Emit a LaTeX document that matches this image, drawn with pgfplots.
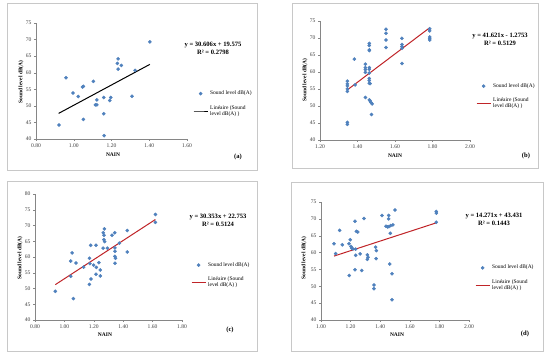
\documentclass[border=0pt]{standalone}
\usepackage{pgfplots}
\pgfplotsset{compat=1.18}
\usepackage{fontspec}
\setmainfont{Liberation Serif}
\definecolor{mblue}{RGB}{79,129,189}
\definecolor{lred}{RGB}{192,36,40}
\definecolor{axgray}{RGB}{134,134,134}
\definecolor{boxgray}{RGB}{200,200,200}
\pgfplotsset{
  panel/.style={
    scale only axis, anchor=north west,
    axis x line*=bottom, axis y line*=left,
    axis line style={axgray, line width=0.5bp},
    tick style={axgray, line width=0.4bp},
    tick align=outside, major tick length=2bp,
    ytick distance=5,
    xtick distance=0.2,
    xticklabel style={/pgf/number format/fixed, /pgf/number format/fixed zerofill, /pgf/number format/precision=2, yshift=1bp},
    /pgf/number format/assume math mode=true,
    ticklabel style={font=\fontsize{5.6}{6}\selectfont, text=black!75},
    yticklabel style={xshift=1bp},
    legend cell align=left,
    legend style={draw=none, fill=none, font=\fontsize{5.5}{6.2}\selectfont, cells={align=left}, row sep=5bp, anchor=north west},
    legend image code/.code={\draw[#1, mark repeat=2, mark phase=2] plot coordinates {(0bp,0bp) (7bp,0bp) (14bp,0bp)};},
  },
  pts/.style={only marks, mark=*, mark size=1.6bp, mark options={fill=mblue, draw=mblue}},
}
\begin{document}
\begin{tikzpicture}
\fill[white] (0,0) rectangle (550bp,358bp);
% boxes
\draw[boxgray, line width=0.6bp] (7bp,{358bp-3bp}) rectangle (257bp,{358bp-170bp});
\draw[boxgray, line width=0.6bp] (292bp,{358bp-3bp}) rectangle (538bp,{358bp-168bp});
\draw[boxgray, line width=0.6bp] (7bp,{358bp-181bp}) rectangle (257bp,{358bp-351bp});
\draw[boxgray, line width=0.6bp] (291bp,{358bp-182bp}) rectangle (543bp,{358bp-351bp});

% (a)
\begin{axis}[panel, at={(36bp,335bp)}, width=151bp, height=116bp,
  xmin=0.8, xmax=1.6, ymin=40, ymax=75,
  legend style={at={(rel axis cs:1.02,0.45)}}]
\addplot[pts] coordinates {
(0.922,44.2) (0.959,58.5) (0.996,53.9) (1.024,52.8) (1.046,55.7) (1.051,55.9)
(1.051,45.9) (1.104,57.4) (1.115,50.3) (1.122,50.3) (1.122,51.8) (1.159,52.5)
(1.159,47.6) (1.161,41.0) (1.191,51.6) (1.196,52.5) (1.235,64.2) (1.231,62.8)
(1.235,61.1) (1.252,62.2) (1.309,52.9) (1.325,60.7) (1.403,69.3)};
\addlegendentry{Sound level dB(A)}
\addplot[black, line width=1bp] coordinates {(0.92,47.73) (1.403,62.51)};
\addlegendentry{Linéaire (Sound\\level dB(A) )}
\end{axis}

% (b)
\begin{axis}[panel, at={(320bp,337bp)}, width=150bp, height=119bp,
  xmin=1.2, xmax=2.0, ymin=40, ymax=75,
  legend style={at={(rel axis cs:1.02,0.51)}}]
\addplot[pts] coordinates {
(1.346,57.3) (1.346,56.5) (1.346,55.9) (1.346,55.0) (1.346,54.3) (1.346,45.2) (1.346,44.6)
(1.383,63.8) (1.387,56.2)
(1.442,62.3) (1.442,61.3) (1.442,60.7) (1.442,59.9) (1.442,52.5)
(1.463,68.4) (1.463,67.8) (1.463,66.5) (1.463,66.3) (1.463,61.3) (1.463,60.8) (1.463,59.7)
(1.463,58.1) (1.463,57.5) (1.463,56.7) (1.467,56.6) (1.463,51.8) (1.467,51.5) (1.472,51.0)
(1.478,50.6) (1.475,47.5)
(1.552,72.6) (1.552,71.4) (1.552,69.4) (1.552,67.2)
(1.637,69.9) (1.637,68.1) (1.637,67.5) (1.637,67.0) (1.637,62.5)
(1.785,72.7) (1.785,72.1) (1.785,70.3) (1.785,69.8) (1.785,69.4)};
\addlegendentry{Sound level dB(A)}
\addplot[lred, line width=1bp] coordinates {(1.346,54.75) (1.785,73.02)};
\addlegendentry{Linéaire (Sound\\level dB(A) )}
\end{axis}

% (c)
\begin{axis}[panel, at={(35bp,164bp)}, width=147bp, height=126bp,
  xmin=0.8, xmax=1.8, ymin=40, ymax=80,
  legend style={at={(rel axis cs:1.04,0.49)}}]
\addplot[pts] coordinates {
(0.938,49.1) (1.061,46.8) (1.043,53.9) (1.043,58.7) (1.052,61.3) (1.079,58.1)
(1.131,56.8) (1.170,59.6) (1.170,51.3) (1.181,53.0) (1.179,63.7) (1.215,63.7)
(1.174,57.9) (1.199,57.4) (1.217,56.7) (1.235,58.2) (1.215,54.5) (1.244,55.9)
(1.244,54.0) (1.263,62.8) (1.265,67.7) (1.272,68.9) (1.269,66.9) (1.269,65.5)
(1.274,64.9) (1.292,62.8) (1.324,66.9) (1.342,67.7) (1.344,62.9) (1.344,61.8)
(1.344,60.2) (1.347,59.6) (1.344,58.0) (1.374,64.4) (1.428,68.4) (1.428,61.6)
(1.619,73.5) (1.619,71.0)};
\addlegendentry{Sound level dB(A)}
\addplot[lred, line width=1bp] coordinates {(0.938,51.22) (1.619,71.90)};
\addlegendentry{Linéaire (Sound\\level dB(A) )}
\end{axis}

% (d)
\begin{axis}[panel, at={(321bp,156bp)}, width=148bp, height=118bp,
  xmin=1.0, xmax=2.0, ymin=40, ymax=75,
  legend style={at={(rel axis cs:1.02,0.50)}}]
\addplot[pts] coordinates {
(1.088,62.6) (1.099,59.7) (1.126,66.6) (1.144,62.3) (1.191,53.2) (1.189,62.6)
(1.198,63.8) (1.203,61.8) (1.207,61.3) (1.216,61.1) (1.234,61.0) (1.230,69.3)
(1.239,66.3) (1.248,66.1) (1.234,59.2) (1.230,54.9) (1.264,59.6) (1.275,54.7)
(1.291,70.1) (1.313,59.3) (1.318,58.6) (1.313,58.0) (1.369,61.6) (1.374,60.6)
(1.372,58.2) (1.358,50.4) (1.358,49.3) (1.412,71.0) (1.457,71.0) (1.457,70.0)
(1.439,67.8) (1.450,67.6) (1.459,67.7) (1.471,68.0) (1.486,68.2) (1.468,65.7)
(1.500,72.6) (1.464,56.6) (1.480,53.7) (1.480,46.0) (1.779,72.2) (1.779,71.7)
(1.779,69.0)};
\addlegendentry{Sound level dB(A)}
\addplot[lred, line width=1bp] coordinates {(1.088,58.96) (1.779,68.82)};
\addlegendentry{Linéaire (Sound\\level dB(A) )}
\end{axis}

% texts
\begin{scope}[every node/.style={font=\fontsize{6.6}{8}\selectfont\bfseries, align=center, inner sep=0pt}]
\node at (213bp,{358bp-48bp}) {y = 30.606x + 19.575\\R² = 0.2798};
\node at (500bp,{358bp-39.5bp}) {y = 41.621x - 1.2753\\R² = 0.5129};
\node at (218bp,{358bp-220.5bp}) {y = 30.353x + 22.753\\R² = 0.5124};
\node at (494bp,{358bp-219.5bp}) {y = 14.271x + 43.431\\R² = 0.1443};
\end{scope}
\begin{scope}[every node/.style={font=\fontsize{6.6}{8}\selectfont\bfseries, inner sep=0pt}]
\node at (238bp,{358bp-157bp}) {(a)};
\node at (526bp,{358bp-156bp}) {(b)};
\node at (230bp,{358bp-330bp}) {(c)};
\node at (525bp,{358bp-334bp}) {(d)};
\end{scope}
\begin{scope}[every node/.style={font=\fontsize{5.5}{6}\selectfont\bfseries, inner sep=0pt}]
\node at (113bp,{358bp-155bp}) {NAIN};
\node at (395bp,{358bp-156bp}) {NAIN};
\node at (105bp,{358bp-335bp}) {NAIN};
\node at (397bp,{358bp-335bp}) {NAIN};
\node[rotate=90] at (21bp,{358bp-82bp}) {Sound level dB(A)};
\node[rotate=90] at (305bp,{358bp-80bp}) {Sound level dB(A)};
\node[rotate=90] at (20bp,{358bp-258bp}) {Sound level dB(A)};
\node[rotate=90] at (304bp,{358bp-258bp}) {Sound level dB(A)};
\end{scope}
\end{tikzpicture}
\end{document}
